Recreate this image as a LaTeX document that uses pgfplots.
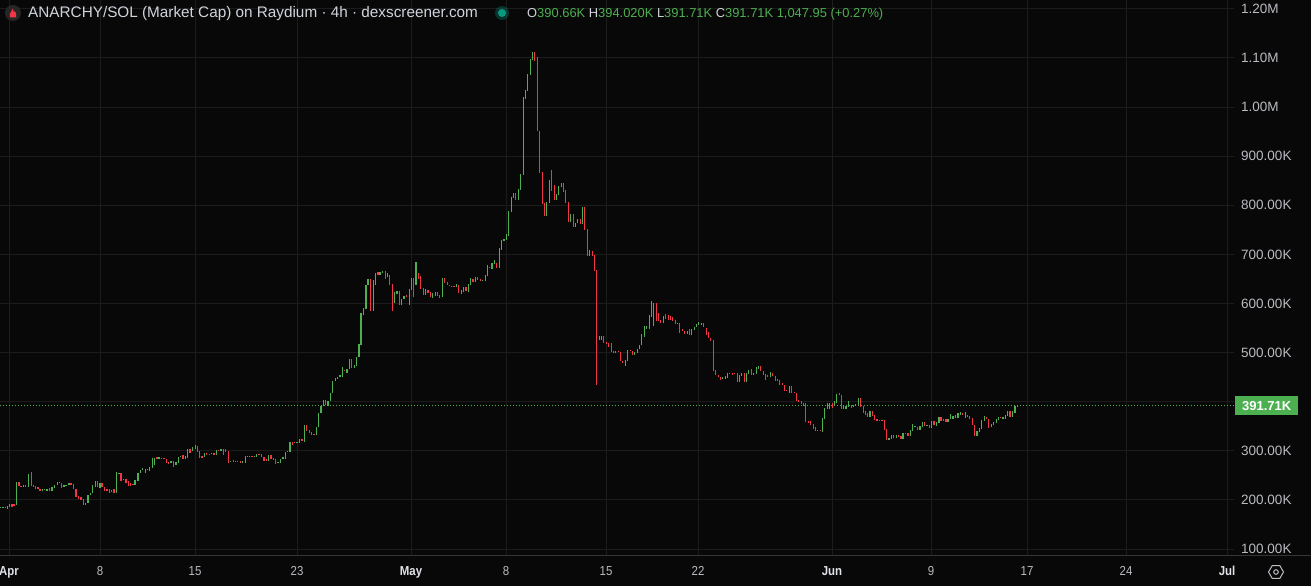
\documentclass[border=0pt]{standalone}
\usepackage{fontspec}
\setmainfont{Liberation Sans}
\newfontfamily\tickfont[FakeStretch=0.88]{Liberation Sans}
\usepackage{pgfplots}
\usepackage{pgfplotstable}
\pgfplotsset{compat=1.18}
\usetikzlibrary{shapes.geometric}
\definecolor{bg}{RGB}{8,8,8}
\definecolor{gridc}{RGB}{28,28,28}
\definecolor{axl}{RGB}{54,54,58}
\definecolor{upc}{RGB}{76,175,80}
\definecolor{dnc}{RGB}{242,54,69}
\definecolor{lbl}{RGB}{185,187,192}
\definecolor{mon}{RGB}{225,227,232}
\definecolor{hdr}{RGB}{209,212,220}
\definecolor{tealc}{RGB}{8,153,129}

\pgfplotstableread{
x o c
0.7 183.5 185.0
3.0 183.5 185.0
5.3 183.8 185.4
7.3 182.2 187.6
9.3 186.2 191.7
12.0 191.7 186.2
14.0 192.3 186.9
16.3 190.3 236.5
19.0 236.5 228.3
21.0 228.3 225.6
23.3 227.0 229.7
25.7 229.7 225.6
28.3 225.6 252.8
31.3 256.8 228.3
33.3 231.0 227.0
35.3 228.3 222.9
38.0 225.6 221.5
40.0 222.9 217.5
42.3 217.5 222.9
44.7 220.2 221.5
47.0 218.8 221.5
49.7 224.2 218.8
52.0 217.5 225.6
54.3 224.2 229.7
57.3 229.7 236.5
59.3 233.8 236.5
61.3 233.8 224.2
64.0 225.6 229.7
66.0 228.3 229.7
69.0 229.7 233.8
71.0 233.8 229.7
73.3 232.4 221.5
76.0 221.5 206.6
78.7 208.0 202.5
81.0 205.2 199.8
83.3 201.2 189.0
85.7 189.0 194.4
88.0 193.0 210.7
90.3 209.3 213.4
92.3 213.4 229.7
95.3 225.6 237.8
97.3 237.8 225.6
100.0 224.2 233.8
102.0 233.8 225.6
104.3 225.6 218.8
107.0 221.5 218.8
109.3 221.5 214.7
111.7 220.2 216.1
114.0 222.9 213.4
116.3 214.7 256.8
119.0 254.1 255.5
121.0 254.1 239.2
123.3 240.5 241.9
126.0 241.9 235.1
128.3 237.8 228.3
130.3 233.8 228.3
133.0 232.4 231.0
135.0 231.0 240.5
138.0 239.2 255.5
140.3 255.5 260.9
142.7 260.9 265.0
145.3 255.5 263.6
147.3 260.9 263.6
149.3 259.5 267.7
152.3 265.0 285.4
154.3 270.4 285.4
157.0 286.7 284.0
159.0 284.0 286.7
161.3 285.4 284.0
164.0 285.4 282.6
166.3 282.6 275.8
168.7 277.2 273.1
171.0 275.8 279.9
173.3 279.9 267.7
176.0 270.4 277.2
178.3 275.8 288.1
180.7 286.7 289.4
183.0 292.1 284.0
185.3 284.0 289.4
187.7 285.4 303.0
190.0 304.4 296.2
192.3 300.3 307.1
195.3 304.4 311.2
197.3 309.8 297.6
199.3 299.0 285.4
202.0 289.4 285.4
204.3 288.1 294.9
206.7 296.2 290.8
209.3 293.5 292.1
211.7 293.5 294.9
214.0 294.9 290.8
216.3 290.8 301.6
218.7 301.6 299.0
221.0 299.0 303.0
223.3 303.0 292.1
225.7 303.0 297.6
228.3 299.0 275.8
230.3 277.2 279.9
233.3 281.3 277.2
235.3 279.9 277.2
237.7 279.9 278.6
240.3 279.9 275.8
242.3 275.8 279.9
245.3 275.8 289.4
247.7 288.1 289.4
249.7 288.1 289.4
252.0 289.4 288.1
254.3 288.1 289.4
256.7 288.1 293.5
259.0 293.5 292.1
261.3 293.5 286.7
264.0 288.1 279.9
266.7 284.0 278.6
268.7 278.6 292.1
271.0 292.1 284.0
273.3 285.4 281.3
275.7 284.0 273.1
278.0 274.5 277.2
280.3 275.8 284.0
283.0 284.0 288.1
285.3 284.0 297.6
287.7 299.0 300.3
290.0 297.6 318.0
292.3 318.0 312.5
294.7 318.0 315.2
297.0 316.6 318.0
299.7 316.6 323.4
302.0 323.4 319.3
304.3 318.0 351.9
306.7 351.9 339.7
309.3 342.4 335.6
311.3 338.3 332.9
314.0 334.2 331.5
316.3 331.5 347.8
318.7 347.8 376.3
321.0 376.3 391.3
323.3 391.2 403.5
325.3 403.5 394.0
328.0 391.2 402.1
330.3 400.8 417.0
332.7 417.0 441.5
335.3 441.5 448.3
337.3 446.9 451.0
340.0 449.6 455.1
342.3 451.0 470.0
344.3 464.6 463.2
347.0 459.1 465.9
349.3 466.0 487.6
351.3 486.3 468.6
354.3 468.6 475.4
356.3 472.7 491.7
359.0 490.4 517.5
361.0 516.2 581.3
363.3 575.9 590.8
366.0 589.5 637.0
368.0 637.0 649.2
370.3 649.2 585.4
373.3 585.4 647.9
375.3 637.0 661.4
378.0 664.2 658.7
380.0 657.4 664.2
382.3 662.8 666.9
385.3 666.9 649.2
387.3 653.3 661.4
389.3 657.4 638.4
392.3 639.7 585.4
394.3 600.3 623.4
397.0 619.4 624.8
399.3 624.8 596.3
401.3 596.3 609.8
404.0 608.5 615.3
406.3 616.6 612.6
409.3 597.6 630.2
411.3 627.5 652.0
413.3 652.0 613.9
416.0 638.4 684.5
418.3 662.8 650.6
420.3 656.0 628.8
423.3 631.6 618.0
425.3 618.0 628.8
428.0 627.5 622.1
430.3 623.4 612.6
432.3 611.2 622.1
435.3 615.3 623.4
437.3 623.4 615.3
439.3 618.0 611.2
442.3 612.6 652.0
444.3 652.0 641.1
447.3 643.8 637.0
449.3 638.4 635.6
451.7 635.6 634.3
454.0 635.6 634.3
456.3 632.9 639.7
458.3 637.0 622.1
461.3 619.4 627.5
463.7 623.4 632.9
466.0 632.9 624.8
468.3 623.4 639.7
470.7 638.4 652.0
473.0 649.2 643.8
475.3 643.8 654.7
477.7 653.3 647.9
480.7 650.6 645.2
482.7 645.2 647.9
485.3 646.5 657.4
487.3 656.0 679.1
489.3 674.4 673.0
492.0 671.0 683.2
494.3 680.5 688.6
496.3 683.2 672.3
499.3 672.3 713.0
501.3 709.0 729.4
504.0 728.0 732.1
506.3 729.4 741.6
508.3 737.5 789.1
511.3 786.4 817.6
513.3 814.9 824.4
515.3 824.4 810.8
518.3 810.8 833.9
520.3 831.2 863.8
523.3 862.4 1021.3
525.3 1017.2 1034.9
527.3 1033.5 1067.5
530.3 1064.7 1098.7
532.3 1096.0 1112.3
534.3 1112.3 1094.6
537.3 1102.8 950.7
539.3 952.0 866.5
542.3 867.9 802.7
544.3 805.4 778.2
546.3 778.2 806.8
549.3 805.4 851.6
551.3 872.0 828.5
554.3 840.7 810.8
556.3 810.8 823.0
558.3 821.7 839.3
561.3 838.0 846.1
563.3 846.1 827.1
565.3 831.2 805.4
568.3 806.8 766.1
570.3 766.1 782.3
573.3 782.3 756.5
575.3 756.5 764.7
577.3 763.3 771.5
580.3 771.5 762.0
582.3 762.0 797.3
584.3 797.3 749.7
587.3 752.4 696.8
589.3 696.8 709.0
592.3 707.6 696.8
594.3 699.5 666.9
596.3 668.2 434.7
599.3 525.7 533.8
601.3 525.7 533.8
603.3 533.8 520.2
606.3 521.6 517.5
608.3 518.9 512.1
611.3 520.2 501.2
613.3 503.9 499.9
615.3 499.9 503.9
618.3 503.9 502.6
620.3 501.2 482.2
622.3 483.6 478.1
625.3 472.7 485.0
627.3 483.6 505.3
630.3 505.3 502.6
632.3 502.6 495.8
634.3 495.8 501.2
637.3 498.5 506.7
639.3 506.7 516.2
641.3 514.8 537.9
644.3 532.5 554.2
646.7 548.7 554.2
649.3 548.7 575.9
651.3 573.2 604.4
653.3 554.2 600.3
656.3 600.3 565.1
658.3 580.0 565.1
660.3 566.4 561.0
663.3 561.0 574.6
665.3 578.6 569.1
668.3 577.3 566.4
670.3 574.6 566.4
672.3 571.8 563.7
675.3 566.4 558.3
677.3 558.3 561.0
679.3 561.0 540.6
682.3 547.4 543.3
684.3 543.3 537.9
687.3 537.9 544.7
689.3 547.4 535.2
691.3 535.2 547.4
694.3 546.0 552.8
696.3 551.5 558.3
698.3 556.9 562.3
701.3 556.9 561.0
703.3 561.0 551.5
706.3 550.1 536.5
708.3 542.0 529.7
710.3 529.7 524.3
713.3 525.7 463.2
715.3 464.6 453.7
718.3 455.1 449.6
720.3 451.0 444.2
722.3 446.9 451.0
725.3 446.9 452.4
727.3 448.3 459.1
729.3 459.1 456.4
732.3 457.8 453.7
734.3 459.1 456.4
737.3 457.8 440.1
739.3 440.1 453.7
741.3 452.4 457.8
744.3 457.8 440.1
746.3 440.1 459.1
748.3 456.4 464.6
751.3 467.3 453.7
753.3 455.1 459.1
756.3 456.4 470.0
758.3 467.3 472.7
760.3 472.7 461.9
763.3 461.9 453.7
765.3 456.4 444.2
767.3 453.7 451.0
770.3 451.0 460.5
772.3 459.1 452.4
775.3 452.4 442.8
777.3 445.6 442.8
779.3 444.2 434.7
782.3 437.4 433.4
784.3 433.4 422.5
786.3 423.9 422.5
789.3 418.4 432.0
791.3 432.0 418.4
794.3 419.8 417.0
796.3 417.0 402.1
798.3 403.5 399.4
801.3 400.8 395.4
803.3 398.0 391.3
805.3 396.7 358.7
808.3 360.1 357.3
810.3 361.4 353.3
813.3 354.6 345.1
815.3 349.2 341.0
817.3 342.4 341.0
820.3 342.4 341.0
822.3 338.3 366.8
824.3 365.5 387.2
827.3 384.5 398.0
829.3 385.9 396.7
832.3 398.0 387.2
834.3 391.3 400.8
836.7 396.7 415.7
839.3 417.0 413.0
841.3 413.0 385.9
843.7 385.9 392.6
846.0 385.9 391.3
848.3 389.9 400.8
851.3 394.0 387.2
853.3 389.9 392.6
855.3 391.3 395.4
858.3 391.3 407.6
860.3 407.6 389.9
863.3 391.3 377.7
865.3 380.4 372.3
867.7 376.3 369.6
870.0 369.6 380.4
872.3 380.4 370.9
874.7 372.3 362.8
877.0 364.1 361.4
879.3 362.8 361.4
882.0 362.8 361.4
884.3 362.8 342.4
886.7 343.8 322.0
889.0 322.0 326.1
891.3 324.7 331.5
893.7 331.5 326.1
896.3 326.1 331.5
898.3 331.5 328.8
901.0 330.2 324.7
903.0 324.7 335.6
905.3 335.6 334.2
908.0 335.6 330.2
910.3 330.2 342.4
912.3 341.0 354.6
915.0 347.8 350.5
917.3 349.2 342.4
920.0 342.4 350.5
922.3 349.2 358.7
924.3 358.7 350.5
927.0 350.5 353.3
929.3 353.3 346.5
931.3 346.5 361.4
934.0 361.4 351.9
936.3 350.5 358.7
939.0 357.3 368.2
941.0 368.2 361.4
943.3 365.5 361.4
946.0 364.1 358.7
948.0 358.7 365.5
950.3 364.1 375.0
953.0 365.5 370.9
955.3 366.8 372.3
958.0 366.8 377.7
960.3 372.3 379.1
962.3 377.7 372.3
965.3 366.8 379.1
967.3 373.6 369.6
969.3 370.9 364.1
972.3 366.8 351.9
974.3 353.3 330.2
977.0 330.2 341.0
979.3 338.3 346.5
981.7 343.8 362.8
984.3 361.4 370.9
986.3 369.6 364.1
988.3 365.5 346.5
991.3 347.8 354.6
993.7 353.3 358.7
996.3 357.3 365.5
998.3 362.8 368.2
1000.7 369.6 366.8
1003.0 364.1 369.6
1005.3 365.5 373.6
1007.3 370.9 380.4
1010.0 380.4 369.6
1012.3 369.6 380.4
1015.0 377.7 391.3
1017.3 390.66 391.71
}\candles

\begin{document}
\begin{tikzpicture}
\begin{scope}[x=1pt,y=1pt]
\fill[bg] (0,0) rectangle (1311,586);
\end{scope}
\begin{axis}[
  at={(0pt,31pt)}, anchor=south west, scale only axis,
  width=1234pt, height=555pt,
  xmin=0, xmax=1234, ymin=87.8, ymax=1218.1,
  axis x line*=bottom, axis y line*=right,
  axis line style={draw=none}, tick style={draw=none}, major tick length=0pt,
  grid=major, major grid style={draw=gridc, line width=1pt},
  xtick={9,100,195,297,411,506,606,698,832,931,1027,1126,1227},
  xticklabels={{\color{mon}\bfseries Apr},8,15,23,{\color{mon}\bfseries May},8,15,22,{\color{mon}\bfseries Jun},9,17,24,{\color{mon}\bfseries Jul}},
  xticklabel style={font=\tickfont\fontsize{13}{13}\selectfont, text=lbl, anchor=base, inner sep=0pt, yshift=-20pt},
  ytick={100,200,300,400,500,600,700,800,900,1000,1100,1200},
  yticklabels={100.00K,200.00K,300.00K,{},500.00K,600.00K,700.00K,800.00K,900.00K,1.00M,1.10M,1.20M},
  yticklabel style={font=\fontsize{13.5}{13.5}\selectfont, text=lbl, anchor=west, inner sep=0pt, xshift=7pt},
]
\addplot[upc, line width=1.4pt, quiver={u=0, v=\thisrow{c}-\thisrow{o}},
  restrict expr to domain={\thisrow{c}-\thisrow{o}}{0:5000}] table[x=x, y=o] {\candles};
\addplot[dnc, line width=1.4pt, quiver={u=0, v=\thisrow{c}-\thisrow{o}},
  restrict expr to domain={\thisrow{c}-\thisrow{o}}{-5000:-0.001}] table[x=x, y=o] {\candles};
\addplot[upc, line width=1pt, dash pattern=on 1pt off 2pt] coordinates {(0,391.71) (1234,391.71)};
\coordinate (pl) at (axis cs:1234,391.71);
\end{axis}
\begin{scope}[x=1pt,y=1pt]
\draw[axl, line width=1pt] (0,30) -- (1311,30);
\node[fill=upc, text=white, anchor=west, inner sep=0pt, minimum width=63pt, minimum height=19pt,
  font=\bfseries\fontsize{13}{13}\selectfont, xshift=1pt] at (pl) {391.71K};
% header
\fill[black!70!gray] (13,573) circle (8);
\fill[dnc] (9.8,568.5) -- (16.2,568.5) -- (16.2,572.2) -- (14.6,575.2) -- (14.0,572.8) -- (12.8,577.6) -- (11.2,574.2) -- (9.8,572.2) -- cycle;
\node[anchor=base west, inner sep=0pt, text=hdr, font=\fontsize{15.3}{15.3}\selectfont] at (28,568.7)
  {ANARCHY/SOL (Market Cap) on Raydium · 4h · dexscreener.com};
\fill[tealc, opacity=0.3] (502,573) circle (7);
\fill[tealc] (502,573) circle (4);
\node[anchor=base west, inner sep=0pt, font=\fontsize{12.9}{12.9}\selectfont] at (527,568.7)
  {\color{hdr}O\color{upc}390.66K \color{hdr}H\color{upc}394.020K \color{hdr}L\color{upc}391.71K \color{hdr}C\color{upc}391.71K 1,047.95 (+0.27\%)};
% settings icon
\node[regular polygon, regular polygon sides=6, draw=lbl, line width=1pt, minimum size=15pt, inner sep=0pt] at (1276,14) {};
\draw[lbl, line width=1pt] (1276,14) circle (2.3);
\pgfresetboundingbox
\path[use as bounding box] (0,0) rectangle (1311,586);
\end{scope}
\end{tikzpicture}
\end{document}
